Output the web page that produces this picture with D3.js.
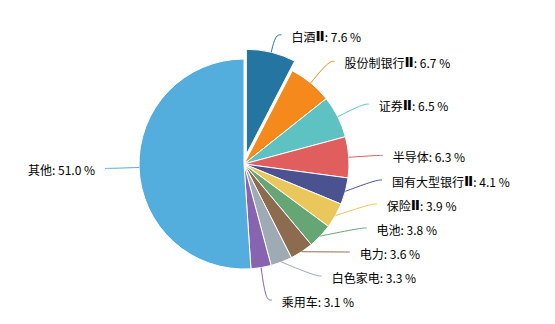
<!DOCTYPE html>
<html>
<head>
<meta charset="utf-8">
<script src="https://cdn.jsdelivr.net/npm/d3@7"></script>
<style>
  body { margin: 0; background: #fff; }
  svg { display: block; }
  text { font-family: "Noto Sans CJK SC", "Microsoft YaHei", sans-serif; font-size: 12px; }
  tspan.roman { font-family: "DejaVu Sans", sans-serif; font-weight: bold; font-size: 14px; }
</style>
</head>
<body>
<svg id="chart"></svg>
<script>
const names = ['白酒Ⅱ', '股份制银行Ⅱ', '证券Ⅱ', '半导体', '国有大型银行Ⅱ', '保险Ⅱ', '电池', '电力', '白色家电', '乘用车', '其他'];
const values = [7.6, 6.7, 6.5, 6.3, 4.1, 3.9, 3.8, 3.6, 3.3, 3.1, 51.0];
const colors = ['#2475a2', '#f5891c', '#5ec2c2', '#e15e5e', '#4a5290', '#e9c75a', '#66a576', '#8d6b4f', '#9eabb4', '#8864b0', '#53addd'];
const selected = ['白酒Ⅱ'];

const width = 555, height = 324;
const cx = 244, cy = 164, radius = 105;
const explode = 10;
const lineLen = 28, lineLen2 = 6, textGap = 10;
const labelGap = 24, labelMaxY = 300;

const data = names.map((name, i) => ({ name, value: values[i], color: colors[i] }));

const svg = d3.select('#chart')
    .attr('width', width)
    .attr('height', height);

const pie = d3.pie()
    .sort(null)
    .value(d => d.value);

const arc = d3.arc()
    .innerRadius(0)
    .outerRadius(radius);

const arcs = pie(data);

const g = svg.append('g')
    .attr('transform', `translate(${cx},${cy})`);

// slices
g.selectAll('path.slice')
    .data(arcs)
    .join('path')
    .attr('class', 'slice')
    .attr('d', arc)
    .attr('fill', d => d.data.color)
    .attr('stroke', '#fff')
    .attr('stroke-width', 1)
    .attr('transform', d => {
        if (!selected.includes(d.data.name)) return null;
        const mid = (d.startAngle + d.endAngle) / 2;
        return `translate(${Math.sin(mid) * explode},${-Math.cos(mid) * explode})`;
    });

// label anchor points
const R = radius + lineLen;
const labels = arcs.map(d => {
    const mid = (d.startAngle + d.endAngle) / 2;
    const off = selected.includes(d.data.name) ? explode : 0;
    const sx = Math.sin(mid), sy = -Math.cos(mid);
    return {
        d,
        side: sx >= 0 ? 1 : -1,
        p0: [cx + sx * (radius + off), cy + sy * (radius + off)],
        x: cx + sx * R,
        y: cy + sy * R,
        y0: cy + sy * R
    };
});

// keep labels on each side apart (push down, then push back up from the bottom)
[1, -1].forEach(side => {
    const list = labels.filter(l => l.side === side).sort((a, b) => a.y - b.y);
    for (let i = 1; i < list.length; i++) {
        if (list[i].y - list[i - 1].y < labelGap) list[i].y = list[i - 1].y + labelGap;
    }
    if (list.length && list[list.length - 1].y > labelMaxY) {
        list[list.length - 1].y = labelMaxY;
        for (let i = list.length - 2; i >= 0; i--) {
            if (list[i + 1].y - list[i].y < labelGap) list[i].y = list[i + 1].y - labelGap;
        }
    }
    list.forEach(l => {
        const dy = l.y - cy;
        if (Math.abs(l.y - l.y0) > 0.5 && Math.abs(dy) < R) {
            l.x = cx + side * Math.sqrt(R * R - dy * dy);
        }
    });
});

const line = d3.line().curve(d3.curveBasis);

svg.append('g')
    .selectAll('path')
    .data(labels)
    .join('path')
    .attr('d', l => line([l.p0, [l.x, l.y], [l.x + l.side * lineLen2, l.y]]))
    .attr('fill', 'none')
    .attr('stroke', l => l.d.data.color)
    .attr('stroke-width', 1);

const texts = svg.append('g')
    .selectAll('text')
    .data(labels)
    .join('text')
    .attr('x', l => l.x + l.side * (lineLen2 + textGap))
    .attr('y', l => l.y + 1)
    .attr('dominant-baseline', 'central')
    .attr('text-anchor', l => l.side > 0 ? 'start' : 'end')
    .attr('fill', '#000');

// the roman numeral gets its own font so it sits tight like the original
texts.each(function(l) {
    const t = d3.select(this);
    const parts = l.d.data.name.split('Ⅱ');
    parts.forEach((p, i) => {
        if (p) t.append('tspan').text(p);
        if (i < parts.length - 1) t.append('tspan').attr('class', 'roman').text('Ⅱ');
    });
    t.append('tspan').text(`: ${d3.format('.1f')(l.d.data.value)} %`);
});
</script>
</body>
</html>
